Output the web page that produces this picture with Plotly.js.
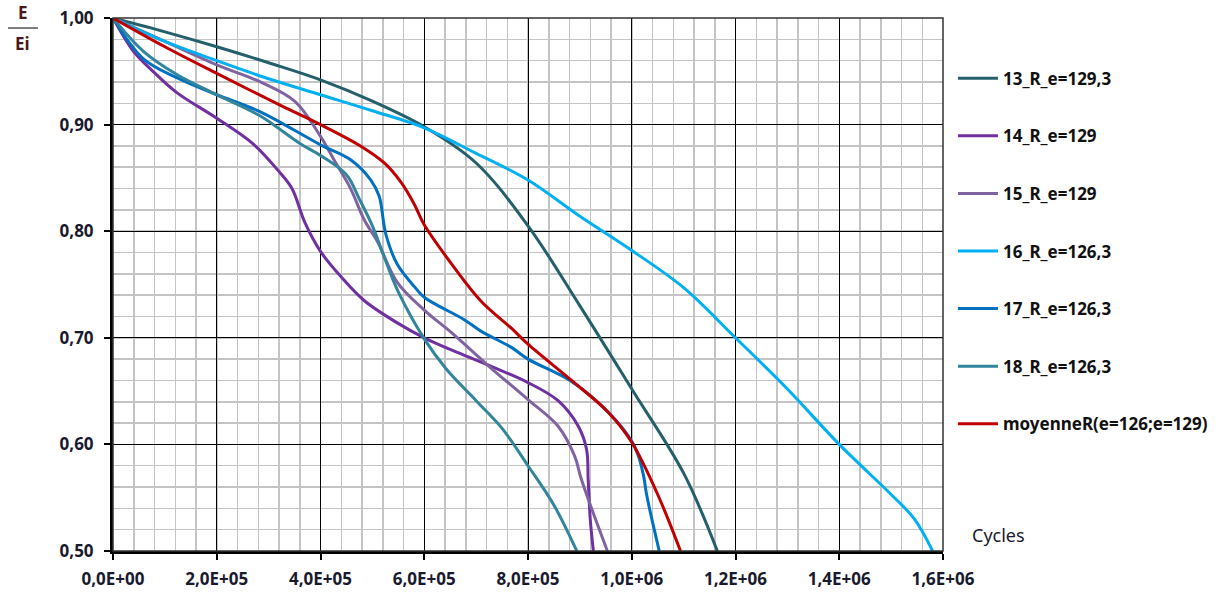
<!DOCTYPE html>
<html>
<head>
<meta charset="utf-8">
<script src="https://cdn.plot.ly/plotly-3.0.1.min.js"></script>
<style>
html,body{margin:0;padding:0;background:#fff;}
#chart{width:1228px;height:594px;}
</style>
</head>
<body>
<div id="chart"></div>
<script>
// ---- data (cycles, E/Ei) ----
const names = ["13_R_e=129,3","14_R_e=129","15_R_e=129","16_R_e=126,3","17_R_e=126,3","18_R_e=126,3","moyenneR(e=126;e=129)"];
const colors = ["#245F6C","#7030A0","#8064A2","#00B0F0","#0070C0","#31859C","#C00000"];

const x13 = [0,1.0e5,2.0e5,3.0e5,4.0e5,5.0e5,6.0e5,7.0e5,8.0e5,9.0e5,1.0e6,1.1e6,1.165e6];
const y13 = [1.0,0.987,0.973,0.958,0.942,0.922,0.898,0.864,0.805,0.730,0.652,0.573,0.50];

const x14 = [0,3.9e4,7.7e4,1.23e5,2.0e5,2.7e5,3.2e5,3.45e5,3.7e5,4.0e5,4.4e5,4.84e5,5.48e5,6.0e5,6.65e5,7.3e5,8.0e5,8.58e5,8.97e5,9.13e5,9.16e5,9.2e5,9.26e5];
const y14 = [1.0,0.969,0.950,0.930,0.906,0.882,0.856,0.840,0.808,0.781,0.757,0.735,0.714,0.700,0.686,0.673,0.658,0.641,0.617,0.595,0.567,0.530,0.50];

const x15 = [0,1.0e5,2.0e5,2.84e5,3.5e5,4.0e5,4.26e5,4.58e5,4.84e5,5.1e5,5.48e5,6.0e5,6.52e5,7.23e5,8.0e5,8.58e5,8.9e5,9.03e5,9.53e5];
const y15 = [1.0,0.978,0.956,0.940,0.922,0.889,0.867,0.840,0.811,0.790,0.752,0.726,0.705,0.674,0.642,0.617,0.589,0.567,0.50];

const x16 = [0,1.0e5,2.0e5,3.0e5,4.0e5,5.0e5,6.0e5,7.0e5,8.0e5,9.0e5,1.0e6,1.1e6,1.2e6,1.3e6,1.4e6,1.5e6,1.545e6,1.58e6];
const y16 = [1.0,0.978,0.960,0.943,0.928,0.913,0.897,0.873,0.848,0.814,0.782,0.747,0.700,0.652,0.600,0.553,0.530,0.50];

const x17 = [0,5.8e4,1.23e5,2.0e5,2.84e5,4.0e5,4.58e5,4.97e5,5.13e5,5.26e5,5.48e5,5.81e5,6.0e5,6.77e5,7.1e5,7.68e5,8.0e5,8.84e5,9.55e5,1.0e6,1.013e6,1.023e6,1.029e6,1.053e6];
const y17 = [1.0,0.962,0.944,0.928,0.912,0.881,0.867,0.848,0.833,0.797,0.769,0.748,0.738,0.717,0.706,0.691,0.680,0.659,0.630,0.603,0.589,0.570,0.552,0.50];

const x18 = [0,5.8e4,1.23e5,2.0e5,2.84e5,3.61e5,4.0e5,4.5e5,4.75e5,5.0e5,5.25e5,5.5e5,6.0e5,6.42e5,7.0e5,7.5e5,8.0e5,8.5e5,8.94e5];
const y18 = [1.0,0.969,0.947,0.928,0.908,0.882,0.871,0.853,0.830,0.805,0.773,0.743,0.699,0.671,0.641,0.615,0.580,0.543,0.50];

const xMoy = [0,1.0e5,2.0e5,3.23e5,4.0e5,4.77e5,5.23e5,5.55e5,5.8e5,6.0e5,6.5e5,7.1e5,7.68e5,8.0e5,8.84e5,9.55e5,1.0e6,1.05e6,1.094e6];
const yMoy = [1.0,0.973,0.948,0.918,0.900,0.880,0.864,0.846,0.826,0.806,0.771,0.734,0.709,0.694,0.660,0.630,0.602,0.553,0.50];

const xTickVals = [0,2e5,4e5,6e5,8e5,1.0e6,1.2e6,1.4e6,1.6e6];
const xTickText = ["0,0E+00","2,0E+05","4,0E+05","6,0E+05","8,0E+05","1,0E+06","1,2E+06","1,4E+06","1,6E+06"];
const yTickVals = [0.5,0.6,0.7,0.8,0.9,1.0];
const yTickText = ["0,50","0,60","0,70","0,80","0,90","1,00"];

const xs = [x13,x14,x15,x16,x17,x18,xMoy];
const ys = [y13,y14,y15,y16,y17,y18,yMoy];

const traces = xs.map((x,i)=>({
  x: x, y: ys[i], name: names[i], type:'scatter', mode:'lines',
  line:{color:colors[i], width:3, shape:'spline', smoothing:1},
  legendgroup:'g'+i
}));

const tickFont = {family:"'Noto Sans', 'Open Sans', sans-serif", size:17, color:'#1a1a2e', weight:'bold'};

const layout = {
  width:1228, height:594,
  margin:{l:113, r:285, t:18, b:43},
  paper_bgcolor:'#ffffff', plot_bgcolor:'#ffffff',
  showlegend:true,
  legend:{x:1.012, y:0.92, xanchor:'left', yanchor:'top',
    font:{family:"'Noto Sans', sans-serif", size:17, color:'#111', weight:'bold'},
    tracegroupgap:32.5, itemwidth:40, bgcolor:'rgba(0,0,0,0)'},
  xaxis:{range:[0,1.6e6], tickvals:xTickVals, ticktext:xTickText, tickfont:tickFont,
    showgrid:true, gridcolor:'#000000', gridwidth:1,
    minor:{dtick:4e4, tick0:0, showgrid:true, gridcolor:'#c4c4c4', gridwidth:1.5},
    showline:true, linecolor:'#000', linewidth:3, ticks:'outside', ticklen:6, tickwidth:2, tickcolor:'#000',
    ticklabelstandoff:5, zeroline:false, fixedrange:true},
  yaxis:{range:[0.5,1.0], tickvals:yTickVals, ticktext:yTickText, tickfont:tickFont,
    showgrid:true, gridcolor:'#000000', gridwidth:1,
    minor:{dtick:0.02, tick0:0, showgrid:true, gridcolor:'#c4c4c4', gridwidth:1.5},
    showline:true, linecolor:'#000', linewidth:3, ticks:'outside', ticklen:6, tickwidth:2, tickcolor:'#000',
    ticklabelstandoff:7, zeroline:false, fixedrange:true},
  shapes:[
    {type:'rect', xref:'paper', yref:'paper', x0:0, x1:1, y0:0, y1:1, line:{color:'#333', width:1.5}, layer:'above'},
    {type:'line', xref:'paper', yref:'paper', x0:-0.1265, x1:-0.0904, y0:0.9812, y1:0.9812, line:{color:'#555', width:1.5}}
  ],
  annotations:[
    {text:'<b>E</b>', xref:'paper', yref:'paper', x:-0.1085, y:0.985, yanchor:'bottom', xanchor:'center', showarrow:false,
      font:{family:"'Noto Sans', sans-serif", size:17, color:'#4a1818'}},
    {text:'<b>Ei</b>', xref:'paper', yref:'paper', x:-0.1085, y:0.977, yanchor:'top', xanchor:'center', showarrow:false,
      font:{family:"'Noto Sans', sans-serif", size:17, color:'#4a1818'}},
    {text:'Cycles', xref:'paper', yref:'paper', x:1.0325, y:0.03, xanchor:'left', yanchor:'middle', showarrow:false,
      font:{family:"'Noto Sans', sans-serif", size:18, color:'#1a1a2e'}}
  ]
};

Plotly.newPlot('chart', traces, layout, {displayModeBar:false, staticPlot:true});
</script>
</body>
</html>
